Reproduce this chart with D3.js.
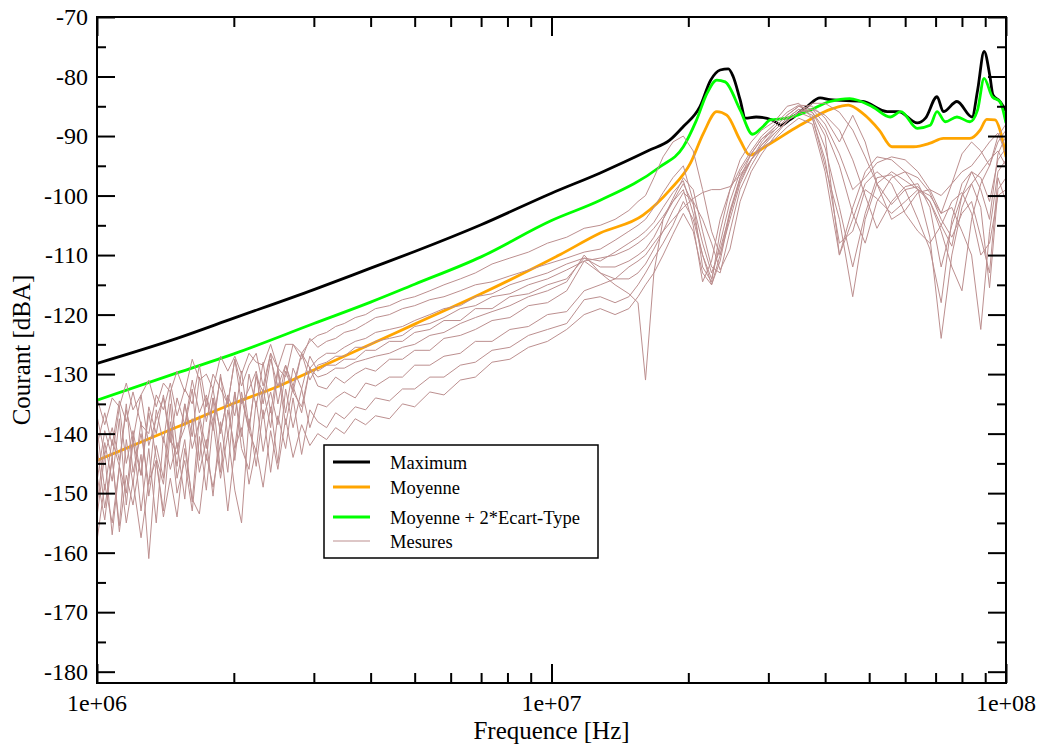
<!DOCTYPE html>
<html><head><meta charset="utf-8">
<script src="https://cdn.jsdelivr.net/npm/d3@7"></script>
<style>
body{margin:0;background:#fff}
svg{display:block}
text{font-family:"Liberation Serif","Times New Roman",serif;fill:#000}
</style>
</head><body>
<svg id="chart" width="1046" height="747"></svg>
<script>
// ---------------- DATA ----------------
const xTickValues = [1e6, 1e7, 1e8];
const xTickLabels = ["1e+06", "1e+07", "1e+08"];
const yTickValues = [-180, -170, -160, -150, -140, -130, -120, -110, -100, -90, -80, -70];
const seriesNames = ["Maximum", "Moyenne", "Moyenne + 2*Ecart-Type", "Mesures"];

// Maximum (MHz, dBA)
const maxFreqMHz = [1, 1.5, 2, 3, 4, 5, 7, 10, 12.8, 16.4, 18.2, 19.5, 21.2, 22.4, 23.5, 24.5, 25.1, 26.0, 26.7, 28.2, 30.6, 32.0, 33.4, 36.4, 39.0, 41, 48.4, 54.8, 58, 63.8, 66.5, 70.5, 72.8, 78, 84.2, 86.6, 89.5, 92.2, 93.6, 97, 100];
const maxValues = [-128.2, -124.0, -120.6, -115.8, -112.2, -109.4, -104.9, -99.6, -96.2, -92.4, -90.7, -88.4, -85.1, -80.6, -78.9, -78.7, -80.0, -83.9, -87.0, -86.8, -87.3, -88.2, -87.3, -85.1, -83.6, -83.9, -84.2, -85.9, -85.9, -87.8, -87.0, -83.4, -85.9, -84.2, -86.8, -82.3, -75.8, -80.0, -83.1, -84.2, -85.8];

// Moyenne
const meanFreqMHz = [1, 1.5, 2, 2.53, 3, 4, 5, 7, 10.4, 12.8, 15.9, 18.2, 20.2, 21.6, 23.1, 24.3, 26, 27.3, 29.5, 35.2, 41.5, 45, 48.4, 52.6, 56.1, 62.6, 68.1, 72.8, 83.3, 87.7, 90.7, 94.6, 97, 100];
const meanValues = [-144.5, -138.9, -134.9, -131.9, -129.3, -125.0, -121.6, -116.5, -110.0, -106.3, -103.3, -99.1, -94.6, -89.5, -85.9, -86.5, -90.7, -93.2, -91.8, -88.2, -85.4, -84.8, -86.2, -89.0, -91.8, -91.8, -91.2, -90.4, -90.4, -89.0, -87.2, -87.3, -89.0, -93.5];

// Moyenne + 2*Ecart-Type
const meanSdFreqMHz = [1, 1.5, 2, 3, 4, 5, 7, 10, 12.8, 17.3, 19.5, 20.8, 22.0, 23.1, 24.1, 26.0, 27.7, 29.2, 30.3, 33, 36.4, 41, 45.3, 50.9, 55.6, 58.7, 63.8, 68.1, 70.5, 73.5, 78, 83.3, 86.6, 89.5, 93.3, 97, 100];
const meanSdValues = [-134.4, -129.8, -126.6, -121.5, -117.9, -114.9, -110.3, -104.2, -100.8, -95.2, -91.8, -87.5, -82.8, -80.6, -80.9, -85.6, -89.7, -88.4, -87.3, -87.0, -85.9, -84.2, -83.7, -85.1, -86.8, -85.9, -88.7, -88.2, -85.9, -87.6, -86.8, -87.6, -85.6, -80.3, -83.4, -84.2, -87.8];

// Mesures: common frequency grid (MHz)
const measFreqMHz = [1.00, 1.04, 1.08, 1.12, 1.16, 1.20, 1.25, 1.30, 1.35, 1.40, 1.45, 1.50, 1.56, 1.62, 1.68, 1.74, 1.80, 1.87, 1.94, 2.01, 2.08, 2.16, 2.24, 2.32, 2.41, 2.50, 2.60, 2.70, 2.82, 2.94,
  3.06, 3.2, 3.35, 3.5, 3.7, 3.9, 4.1, 4.4, 4.7, 5.0, 5.4, 5.8, 6.3, 6.8, 7.4, 8.1, 8.9, 9.8, 10.8, 11.8,
  12.8, 13.8, 14.8, 15.5, 16.1, 16.8, 17.6, 18.5, 19.5, 20.5, 21.5, 22.5, 23.5, 24.7, 26.0, 27.5, 29.0, 31.0, 33.0, 35.0, 37.5, 40.0, 43.0, 46.0, 49.0, 52.0, 56.0, 60.0, 64.0, 68.0, 72.0, 76.0, 80.0, 84.0, 88.0, 92.0, 96.0, 100.0];

const mesure1 = [-134, -138.5, -134, -135.5, -131.5, -136, -133.5, -131, -135.5, -131.5, -133, -129.5, -133, -127.5, -131, -130, -132.5, -127, -129.5, -127, -130, -126.5, -128, -128.5, -125, -129, -125, -125, -126.5, -124.5,
  -123.5, -123, -122, -121.5, -120.5, -120, -119, -118.5, -117.5, -117, -116, -115, -114, -113, -111.5, -110.5, -109.5, -108, -107, -105.5,
  -105, -104, -102.5, -101, -100, -97, -93.5, -91, -90, -92.5, -99, -106, -110, -104, -98, -94, -91, -88.5, -86.5, -85, -85.5, -88, -93, -99, -97, -94.5, -93.5, -94, -96, -99, -103, -98, -93, -91, -92.5, -95, -91, -89];
const mesure2 = [-142, -136.5, -142, -134.5, -138, -133, -138.5, -140, -133.5, -136, -131.5, -137, -132.5, -135, -128.5, -135.5, -130, -132.5, -135, -127.5, -132, -128.5, -126.5, -132, -126.5, -129, -130.5, -125, -127.5, -124,
  -125.5, -124.5, -124, -123, -122.5, -121.5, -120.5, -120, -119, -118.5, -117.5, -117, -116, -115, -114.5, -113.5, -112.5, -111.5, -110.5, -109.5,
  -109, -107.5, -106, -105, -104, -102, -99.5, -97, -95, -101, -112, -114.5, -106, -99, -94, -91, -89, -87.5, -85, -84.5, -87, -95, -104, -117, -104, -98, -96, -97.5, -99, -101, -105, -108.5, -100, -96, -97, -101, -94, -92];
const mesure3 = [-137, -143.5, -139, -144.5, -136, -141, -133.5, -142, -137.5, -134, -141.5, -134, -138.5, -131, -136.5, -133.5, -138, -130.5, -135, -127.5, -135, -132.5, -129.5, -135, -127.5, -132, -128.5, -132, -126.5, -129,
  -127.5, -126.5, -126.5, -125.5, -124.5, -124, -123, -122.5, -122, -121, -120, -119, -118.5, -117, -116.5, -115, -114, -113, -111.5, -110.5,
  -111, -109.5, -108, -107, -106, -104.5, -102, -99.5, -97.5, -103, -110, -115, -111, -103, -97, -93, -90.5, -89, -87, -85.5, -86, -90, -110, -102, -96, -93.5, -94, -96, -99, -107, -124, -110, -102, -98, -96, -94, -92.5, -95];
const mesure4 = [-148, -139.5, -144, -135.5, -145, -139.5, -147, -135.5, -140, -133.5, -141, -143.5, -135, -140.5, -130.5, -138, -132.5, -140, -133.5, -137, -129.5, -139, -130.5, -133, -126.5, -135, -128.5, -133, -126.5, -131,
  -128.5, -128, -127, -127, -125.5, -125.5, -124.5, -124, -123.5, -122, -121.5, -120.5, -119, -118.5, -117, -116.5, -115, -114, -112.5, -111,
  -110.5, -110, -109, -108, -107, -105.5, -103.5, -101, -99, -105, -114.5, -111, -104, -99, -95.5, -92.5, -90, -88, -86, -84.8, -85, -87, -91, -86.5, -91, -98, -101.5, -99, -98.5, -101, -106, -112, -116, -104, -98, -95, -90, -88];
const mesure5 = [-139, -149.5, -141, -145.5, -135, -146.5, -140, -148.5, -136, -141.5, -133, -142.5, -139, -132.5, -144.5, -134, -139.5, -130, -140.5, -133, -140.5, -130, -135.5, -128, -136.5, -129, -136.5, -129, -132.5, -127,
  -129.5, -128.5, -128.5, -127.5, -127.5, -126, -126, -124.5, -124.5, -123, -122.5, -121, -121, -119, -119, -117, -116.5, -115, -114, -110.5,
  -112, -112, -111, -110, -109, -107, -104, -100.5, -97, -99, -106, -112, -113, -106, -99, -95, -92, -89.5, -87.5, -86, -87, -94, -108, -106, -99, -100.5, -103, -101, -99, -100, -103, -102, -106, -110, -122.5, -106, -96, -94];
const mesure6 = [-152, -141.5, -148, -137.5, -152, -141.5, -147, -136.5, -144, -148.5, -138, -145.5, -135, -142.5, -138, -144.5, -134, -139.5, -134, -144.5, -134, -139.5, -130, -137.5, -133, -138.5, -129.5, -133, -135.5, -129,
  -130.5, -130, -129, -129, -128, -127.5, -127, -126.5, -125.5, -125, -123.5, -123, -121.5, -120.5, -119.5, -118.5, -117, -116, -114.5, -110,
  -113, -114, -114, -113, -111.5, -109, -106, -102.5, -99.5, -101, -104, -108, -112.5, -109, -101, -96, -93, -90, -87.5, -86, -85.5, -86.5, -89, -94, -100, -105.5, -101, -98.5, -98, -102, -112, -105, -100, -98, -102, -115.5, -99, -97];
const mesure7 = [-142, -152.5, -144, -155.5, -141, -148.5, -138, -150.5, -142, -147.5, -135, -147.5, -141, -151.5, -137, -142.5, -134, -146.5, -136, -142.5, -133, -139.5, -143, -132.5, -139, -129.5, -138.5, -132, -136.5, -129,
  -132, -132.5, -130.5, -131.5, -130, -129, -129.5, -127.5, -127.5, -126, -126, -124, -123.5, -122.5, -121, -120.5, -118.5, -118, -116, -111,
  -113, -115, -116.5, -118, -131, -113, -104, -101, -98, -101.5, -108, -113, -109, -103, -97.5, -94, -91.5, -89, -87, -85.5, -86.5, -92, -102, -112, -103, -97, -96.5, -99, -104, -109, -118, -104, -98, -96, -99, -104, -93, -90];
const mesure8 = [-154, -143.5, -157, -145.5, -150, -140.5, -153, -142.5, -155, -140.5, -146, -141.5, -151, -137.5, -146.5, -141, -150.5, -138, -146.5, -133, -142.5, -146, -134.5, -143, -135.5, -145, -132.5, -139, -132.5, -139,
  -135, -135.5, -134, -133, -134, -131.5, -132, -130.5, -130.5, -128.5, -128.5, -127, -126.5, -124.5, -124.5, -122.5, -122, -120, -119.5, -116,
  -115, -114, -112, -111, -110, -108, -106, -104, -102, -100.5, -99.5, -99, -99, -98.5, -96.5, -94, -91.5, -89.5, -87.5, -86, -84.5, -84.5, -86, -89, -93.5, -98, -104, -102.5, -99.5, -99, -100, -98, -96, -95, -93, -91, -89.5, -93];
const mesure9 = [-147, -154.5, -144, -156.5, -147, -152, -143.5, -161, -144.5, -153, -139.5, -150, -144.5, -153, -140.5, -149.5, -138, -147.5, -140, -149.5, -155, -137.5, -145.5, -136, -146.5, -137, -142.5, -134, -143.5, -136,
  -138, -139, -136.5, -137.5, -135.5, -136, -134, -134.5, -132.5, -132.5, -130.5, -130.5, -128.5, -128, -126, -125.5, -123.5, -122.5, -121.5, -117.5,
  -117, -118, -117, -115, -113, -110.5, -108, -105, -101, -104, -110, -114, -108, -101, -96, -93, -90.5, -88.5, -86.5, -85, -86, -89, -95, -103, -108, -101, -97, -96, -97, -99.5, -104, -107, -103, -101, -107, -113, -97, -101];
const mesure10 = [-158, -148.5, -155, -145.5, -155, -148, -157.5, -148, -144.5, -154, -147.5, -154, -142.5, -151, -153.5, -143.5, -149, -141.5, -153, -142.5, -139, -148.5, -142.5, -149, -139.5, -146, -137.5, -144, -138.5, -142,
  -140, -141, -139, -140, -137.5, -138.5, -137, -137.5, -135, -135.5, -133, -133.5, -131, -130.5, -128, -127.5, -125.5, -124.5, -122.5, -120,
  -119, -120, -119, -117, -115, -113, -110, -106.5, -103, -106, -113, -115, -110, -102.5, -97, -94, -92, -90.5, -88.5, -87, -88, -96, -110, -104, -98, -96, -98, -103, -106, -108, -105, -101, -99.5, -103, -110, -108, -100, -99];

const measures = [mesure1, mesure2, mesure3, mesure4, mesure5, mesure6, mesure7, mesure8, mesure9, mesure10];

// ---------------- CHART ----------------
const svg = d3.select("#chart");
const L = 97, R = 1006, T = 17, B = 683;
const x = d3.scaleLog().domain([1e6, 1e8]).range([L, R]);
const y = d3.scaleLinear().domain([-181.9, -70]).range([B, T]);

svg.append("defs").append("clipPath").attr("id", "plot")
  .append("rect").attr("x", L).attr("y", T).attr("width", R - L).attr("height", B - T);

const line = d3.line().x(d => x(d[0] * 1e6)).y(d => y(d[1]));
const smooth = d3.line().x(d => x(d[0] * 1e6)).y(d => y(d[1])).curve(d3.curveMonotoneX);

const g = svg.append("g").attr("clip-path", "url(#plot)");
g.append("path").attr("d", smooth(d3.zip(maxFreqMHz, maxValues)))
  .attr("fill", "none").attr("stroke", "#000").attr("stroke-width", 2.8);
g.append("path").attr("d", smooth(d3.zip(meanFreqMHz, meanValues)))
  .attr("fill", "none").attr("stroke", "#ffa500").attr("stroke-width", 2.8);
g.append("path").attr("d", smooth(d3.zip(meanSdFreqMHz, meanSdValues)))
  .attr("fill", "none").attr("stroke", "#00ff00").attr("stroke-width", 2.8);
measures.forEach(m => {
  g.append("path").attr("d", line(d3.zip(measFreqMHz, m)))
    .attr("fill", "none").attr("stroke", "#bc8f8f").attr("stroke-width", 1);
});

// Axes (ticks inward on all four sides)
const minorX = [];
[1e6, 1e7].forEach(dec => { for (let k = 2; k <= 9; k++) minorX.push(dec * k); });
const minorY = yTickValues.slice(0, -1).map(v => v + 5);

function drawAxis(ax, tr) {
  const a = svg.append("g").attr("transform", tr).call(ax);
  a.select(".domain").remove();
  a.selectAll("line").attr("stroke", "#000").attr("stroke-width", 2);
}
drawAxis(d3.axisBottom(x).tickValues(xTickValues).tickSize(-19).tickFormat(""), `translate(0,${B})`);
drawAxis(d3.axisBottom(x).tickValues(minorX).tickSize(-10).tickFormat(""), `translate(0,${B})`);
drawAxis(d3.axisTop(x).tickValues(xTickValues).tickSize(-19).tickFormat(""), `translate(0,${T})`);
drawAxis(d3.axisTop(x).tickValues(minorX).tickSize(-10).tickFormat(""), `translate(0,${T})`);
drawAxis(d3.axisLeft(y).tickValues(yTickValues).tickSize(-18).tickFormat(""), `translate(${L},0)`);
drawAxis(d3.axisLeft(y).tickValues(minorY).tickSize(-9).tickFormat(""), `translate(${L},0)`);
drawAxis(d3.axisRight(y).tickValues(yTickValues).tickSize(-18).tickFormat(""), `translate(${R},0)`);
drawAxis(d3.axisRight(y).tickValues(minorY).tickSize(-9).tickFormat(""), `translate(${R},0)`);

svg.append("rect").attr("x", L).attr("y", T).attr("width", R - L).attr("height", B - T)
  .attr("fill", "none").attr("stroke", "#000").attr("stroke-width", 2);

// Tick labels
svg.append("g").selectAll("text").data(yTickValues).join("text")
  .attr("x", L - 9).attr("y", d => y(d) + 8)
  .attr("text-anchor", "end").attr("font-size", 24).text(d => d);
svg.append("g").selectAll("text").data(xTickValues).join("text")
  .attr("x", d => x(d)).attr("y", 711)
  .attr("text-anchor", "middle").attr("font-size", 24).text((d, i) => xTickLabels[i]);

// Axis titles
svg.append("text").attr("x", (L + R) / 2).attr("y", 739).attr("text-anchor", "middle")
  .attr("font-size", 25).text("Frequence [Hz]");
svg.append("text").attr("transform", `translate(30,${(T + B) / 2}) rotate(-90)`)
  .attr("text-anchor", "middle").attr("font-size", 25).text("Courant [dBA]");

// Legend
const leg = svg.append("g");
leg.append("rect").attr("x", 324).attr("y", 445).attr("width", 274).attr("height", 113)
  .attr("fill", "#fff").attr("stroke", "#000").attr("stroke-width", 1.5);
const legColors = ["#000", "#ffa500", "#00ff00", "#bc8f8f"];
const legWidths = [2.8, 2.8, 2.8, 1];
const legY = [462, 487, 517, 541];
seriesNames.forEach((name, i) => {
  leg.append("line").attr("x1", 333).attr("x2", 370).attr("y1", legY[i]).attr("y2", legY[i])
    .attr("stroke", legColors[i]).attr("stroke-width", legWidths[i]);
  leg.append("text").attr("x", 390).attr("y", legY[i] + 6.5).attr("font-size", 18.5).text(name);
});
</script>
</body></html>
